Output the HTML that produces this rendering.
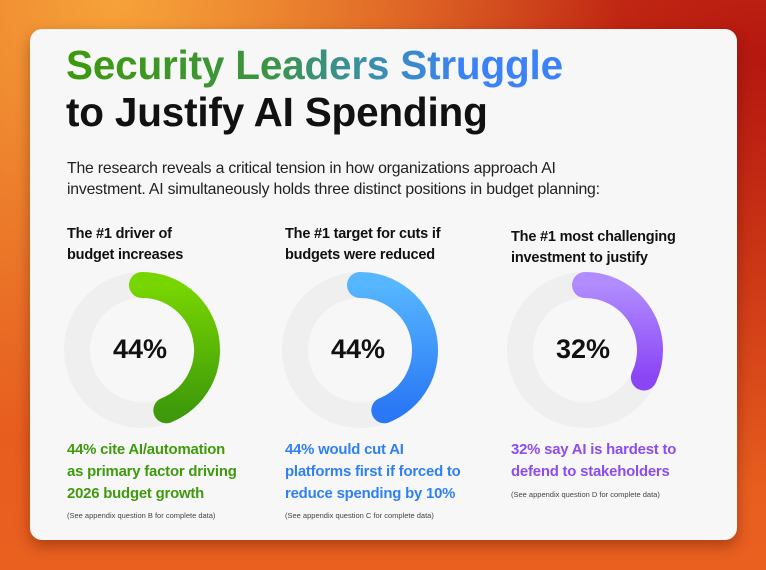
<!DOCTYPE html>
<html><head><meta charset="utf-8"><style>
html,body{margin:0;padding:0;}
body{width:766px;height:570px;overflow:hidden;position:relative;font-family:"Liberation Sans",sans-serif;
background:radial-gradient(ellipse at 15% 0%,#f6a23a 0%,transparent 55%),radial-gradient(ellipse at 100% 10%,#b5170f 0%,transparent 60%),linear-gradient(180deg,#e0541c 0%,#e9601f 100%);}
.card{position:absolute;left:30px;top:29px;width:707px;height:511px;background:#f7f7f7;border-radius:12px;box-shadow:0 6px 14px rgba(60,10,0,.35);}
.t{position:absolute;white-space:nowrap;}
.h1{font-weight:bold;font-size:40.5px;letter-spacing:-0.2px;}
.grad{background:linear-gradient(90deg,#3d9a0c 0%,#3c9440 40%,#3a8fb0 62%,#3b82f6 80%,#3b82f6 100%);-webkit-background-clip:text;background-clip:text;color:transparent;}
.p{font-size:15.8px;color:#222;letter-spacing:-0.2px;line-height:21px;}
.hd{font-weight:bold;font-size:14.5px;color:#111;line-height:21px;letter-spacing:-0.2px;}
.bt{font-weight:bold;font-size:14.9px;line-height:22px;letter-spacing:-0.2px;}
.sm{font-size:7.5px;color:#444;}
.pct{font-size:27px;color:#111;font-weight:bold;}
</style></head><body>
<div class="card"></div>
<div class="t h1 grad" style="left:66px;top:42px;">Security Leaders Struggle</div>
<div class="t h1" style="left:66px;top:89px;color:#111;">to Justify AI Spending</div>
<div class="t p" style="left:67px;top:158px;">The research reveals a critical tension in how organizations approach AI<br>investment. AI simultaneously holds three distinct positions in budget planning:</div>
<div class="t hd" style="left:67px;top:224px;">The #1 driver of<br>budget increases</div>
<div class="t hd" style="left:285px;top:224px;">The #1 target for cuts if<br>budgets were reduced</div>
<div class="t hd" style="left:511px;top:227px;">The #1 most challenging<br>investment to justify</div>
<svg width="766" height="570" style="position:absolute;left:0;top:0">
<defs>
<linearGradient id="g1" x1="0" y1="0" x2="0" y2="1"><stop offset="0" stop-color="#78d600"/><stop offset="1" stop-color="#3e9a0a"/></linearGradient>
<linearGradient id="g2" x1="0" y1="0" x2="0" y2="1"><stop offset="0" stop-color="#56b6ff"/><stop offset="1" stop-color="#2a78f5"/></linearGradient>
<linearGradient id="g3" x1="0" y1="0" x2="0" y2="1"><stop offset="0" stop-color="#b08cff"/><stop offset="1" stop-color="#8a45f5"/></linearGradient>
</defs>
<g fill="none" stroke-width="26">
<circle cx="142" cy="350" r="65" stroke="#efefef"/>
<circle cx="360" cy="350" r="65" stroke="#efefef"/>
<circle cx="585" cy="350" r="65" stroke="#efefef"/>
<path d="M142 285 A65 65 0 0 1 166.3 410.3" stroke="url(#g1)" stroke-linecap="round"/>
<path d="M360 285 A65 65 0 0 1 384.3 410.3" stroke="url(#g2)" stroke-linecap="round"/>
<path d="M585 285 A65 65 0 0 1 643.9 377.5" stroke="url(#g3)" stroke-linecap="round"/>
</g>
</svg>
<div class="t pct" style="left:113px;top:334px;">44%</div>
<div class="t pct" style="left:331px;top:334px;">44%</div>
<div class="t pct" style="left:556px;top:334px;">32%</div>
<div class="t bt" style="left:67px;top:439px;color:#3f9a0d;">44% cite AI/automation<br>as primary factor driving<br>2026 budget growth</div>
<div class="t bt" style="left:285px;top:439px;color:#2f80f5;">44% would cut AI<br>platforms first if forced to<br>reduce spending by 10%</div>
<div class="t bt" style="left:511px;top:439px;color:#8c4cf2;">32% say AI is hardest to<br>defend to stakeholders</div>
<div class="t sm" style="left:67px;top:511px;">(See appendix question B for complete data)</div>
<div class="t sm" style="left:285px;top:511px;">(See appendix question C for complete data)</div>
<div class="t sm" style="left:511px;top:490px;">(See appendix question D for complete data)</div>
</body></html>
